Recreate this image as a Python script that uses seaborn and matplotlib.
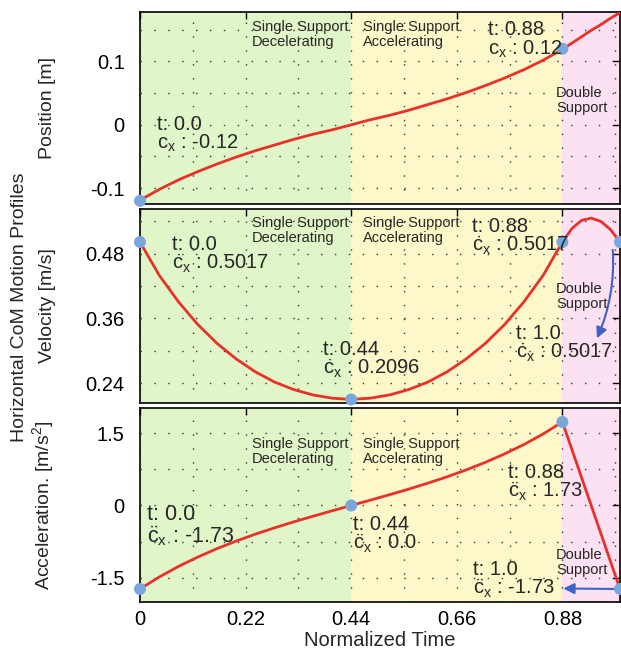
import numpy as np
import pandas as pd
import matplotlib
matplotlib.use("Agg")
import matplotlib.pyplot as plt
import seaborn as sns
from matplotlib.ticker import MultipleLocator

# ---------------- data ----------------
t_vals = [0.00, 0.04, 0.08, 0.12, 0.16, 0.20, 0.24, 0.28, 0.32, 0.36, 0.40, 0.44,
          0.48, 0.52, 0.56, 0.60, 0.64, 0.68, 0.72, 0.76, 0.80, 0.84, 0.88,
          0.90, 0.92, 0.94, 0.96, 0.98, 1.00]
position = [-0.119, -0.102, -0.087, -0.074, -0.062, -0.051, -0.041, -0.032, -0.023, -0.015, -0.008, 0.000,
            0.008, 0.015, 0.023, 0.032, 0.041, 0.051, 0.062, 0.074, 0.087, 0.102, 0.119,
            0.129, 0.139, 0.149, 0.158, 0.168, 0.177]
velocity = [0.5017, 0.440, 0.391, 0.349, 0.314, 0.285, 0.261, 0.242, 0.228, 0.218, 0.212, 0.2096,
            0.212, 0.218, 0.228, 0.242, 0.261, 0.285, 0.314, 0.349, 0.391, 0.440, 0.5017,
            0.527, 0.542, 0.546, 0.540, 0.525, 0.5017]
acceleration = [-1.73, -1.483, -1.264, -1.071, -0.896, -0.739, -0.595, -0.464, -0.340, -0.224, -0.111, 0.000,
                0.111, 0.224, 0.340, 0.464, 0.595, 0.739, 0.896, 1.071, 1.264, 1.483, 1.73,
                1.155, 0.577, 0.000, -0.577, -1.155, -1.73]

key_t_pos = [0.0, 0.88]
key_pos = [-0.12, 0.12]
key_t_vel = [0.0, 0.44, 0.88, 1.0]
key_vel = [0.5017, 0.2096, 0.5017, 0.5017]
key_t_acc = [0.0, 0.44, 0.88, 1.0]
key_acc = [-1.73, 0.0, 1.73, -1.73]

phase_bounds = [0.0, 0.44, 0.88, 1.0]
phase_colors = ["#e1f6c8", "#fdf8c9", "#fbe1f2"]
x_ticks = [0, 0.22, 0.44, 0.66, 0.88]
x_tick_labels = ["0", "0.22", "0.44", "0.66", "0.88"]

df = pd.DataFrame({"t": t_vals, "pos": position, "vel": velocity, "acc": acceleration})

# ---------------- style ----------------
sns.set_style("white")
plt.rcParams["font.family"] = ["Liberation Sans", "DejaVu Sans"]
plt.rcParams["mathtext.fontset"] = "custom"
plt.rcParams["mathtext.rm"] = "Liberation Sans"
plt.rcParams["mathtext.it"] = "Liberation Sans"
plt.rcParams["mathtext.bf"] = "Liberation Sans:bold"

W, H = 621, 649
fig = plt.figure(figsize=(W / 100, H / 100), dpi=100)

def ax_rect(top_px, bot_px, left_px=140, right_px=620):
    return [left_px / W, 1 - bot_px / H, (right_px - left_px) / W, (bot_px - top_px) / H]

ax1 = fig.add_axes(ax_rect(12, 204))
ax2 = fig.add_axes(ax_rect(209, 403))
ax3 = fig.add_axes(ax_rect(408, 602))

RED = "#e8312a"
DOT = "#7aa7db"
ARROW = "#3e63c6"

panels = [
    (ax1, "pos", key_t_pos, key_pos, (-0.125, 0.178), [-0.1, 0, 0.1], ["-0.1", "0", "0.1"], 0.05, "Position [m]"),
    (ax2, "vel", key_t_vel, key_vel, (0.203, 0.563), [0.24, 0.36, 0.48], ["0.24", "0.36", "0.48"], 0.06, "Velocity [m/s]"),
    (ax3, "acc", key_t_acc, key_acc, (-2.0, 2.02), [-1.5, 0, 1.5], ["-1.5", "0", "1.5"], 0.75, r"Acceleration. [m/s$^2$]"),
]

for ax, col, kt, kv, ylim, yt, ytl, yminor, ylab in panels:
    for i in range(3):
        ax.axvspan(phase_bounds[i], phase_bounds[i + 1], color=phase_colors[i], lw=0, zorder=0)
    sns.lineplot(data=df, x="t", y=col, ax=ax, color=RED, lw=2.0, zorder=3)
    ax.scatter(kt, kv, s=75, color=DOT, zorder=4, clip_on=False, edgecolors="none")
    ax.set_xlim(0, 1.0)
    ax.set_ylim(*ylim)
    ax.set_yticks(yt)
    ax.set_yticklabels(ytl)
    ax.yaxis.set_minor_locator(MultipleLocator(yminor))
    ax.set_xticks(x_ticks)
    ax.xaxis.set_minor_locator(MultipleLocator(0.11))
    ax.grid(True, which="both", color="#333333", linestyle=(0, (1, 9)), lw=1.0, zorder=1)
    ax.set_axisbelow(False)
    ax.tick_params(axis="both", which="major", direction="in", length=5, width=1,
                   top=True, right=True, labelsize=14.5, colors="black")
    ax.tick_params(axis="y", which="major", pad=11)
    ax.tick_params(axis="x", which="major", pad=6)
    ax.tick_params(axis="both", which="minor", length=0)
    for s in ax.spines.values():
        s.set_color("black")
        s.set_linewidth(1.2)
    ax.set_ylabel(ylab, fontsize=14)
    ax.yaxis.set_label_coords(-0.175, 0.5)
    ax.set_xlabel("")

ax1.set_xticklabels([])
ax2.set_xticklabels([])
ax3.set_xticklabels(x_tick_labels)
ax3.set_xlabel("Normalized Time", fontsize=14.5, labelpad=1)

fig.text(20 / W, 0.5 * (1 - 12 / H + 1 - 602 / H), "Horizontal CoM Motion Profiles",
         rotation=90, ha="center", va="center", fontsize=14)

def ftext(px, py, s, size=14.5, ls=1.1, **kw):
    fig.text(px / W, 1 - py / H, s, fontsize=size, ha="left", va="top", linespacing=ls, **kw)

cx = r"$\mathrm{c}_\mathrm{x}$"
cdx = r"$\dot{\mathrm{c}}_\mathrm{x}$"
cddx = r"$\ddot{\mathrm{c}}_\mathrm{x}$"

# Top panel texts
ftext(252, 20, "Single Support\nDecelerating", size=10.5)
ftext(363, 20, "Single Support\nAccelerating", size=10.5)
ftext(556, 86, "Double\nSupport", size=10.5)
ftext(488, 20, "t: 0.88\n" + cx + " : 0.12", ls=0.95)
ftext(157, 115, "t: 0.0\n" + cx + " : -0.12", ls=0.95)

# Middle panel texts
ftext(252, 216, "Single Support\nDecelerating", size=10.5)
ftext(363, 216, "Single Support\nAccelerating", size=10.5)
ftext(556, 282, "Double\nSupport", size=10.5)
ftext(472, 217, "t: 0.88\n" + cdx + " : 0.5017", ls=0.95)
ftext(516, 324, "t: 1.0\n" + cdx + " : 0.5017", ls=0.95)
ftext(323, 340, "t: 0.44\n" + cdx + " : 0.2096", ls=0.95)
ftext(172, 235, "t: 0.0\n" + cdx + " : 0.5017", ls=0.95)

# Bottom panel texts
ftext(252, 437, "Single Support\nDecelerating", size=10.5)
ftext(363, 437, "Single Support\nAccelerating", size=10.5)
ftext(556, 548, "Double\nSupport", size=10.5)
ftext(508, 463, "t: 0.88\n" + cddx + " : 1.73", ls=0.95)
ftext(353, 515, "t: 0.44\n" + cddx + " : 0.0", ls=0.95)
ftext(147, 504, "t: 0.0\n" + cddx + " : -1.73", size=15.5, ls=0.95)
ftext(473, 560, "t: 1.0\n" + cddx + " : -1.73", ls=0.95)

# Arrows
ax2.annotate("", xy=(0.952, 0.323), xytext=(0.985, 0.487),
             arrowprops=dict(arrowstyle="-|>", color=ARROW, lw=1.5,
                             connectionstyle="arc3,rad=-0.12", mutation_scale=16,
                             shrinkA=0, shrinkB=0))
ax3.annotate("", xy=(0.882, -1.72), xytext=(0.99, -1.73),
             arrowprops=dict(arrowstyle="-|>", color=ARROW, lw=1.5, mutation_scale=16,
                             shrinkA=0, shrinkB=0))

fig.savefig("out.png", dpi=100)
